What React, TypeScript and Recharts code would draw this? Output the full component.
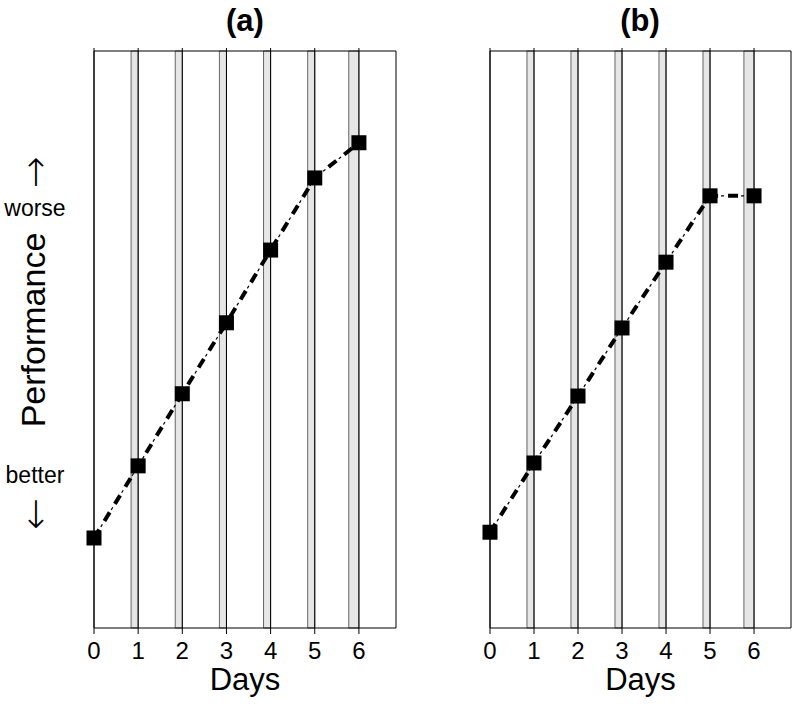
import React from 'react';
import {
  LineChart,
  Line,
  XAxis,
  YAxis,
  ReferenceArea,
  ReferenceLine
} from 'recharts';

const days = [0, 1, 2, 3, 4, 5, 6];
const perfA = [15.6, 28.1, 40.6, 52.9, 65.5, 78.0, 84.1];
const perfB = [16.6, 28.6, 40.2, 52.0, 63.4, 74.9, 74.9];
const bandStart = [0.84, 1.84, 2.84, 3.84, 4.84, 5.77];
const bandEnd = [1, 2, 3, 4, 5, 6];
const xMax = 6.84;

const FONT = '"Liberation Sans", Arial, Helvetica, sans-serif';
const ARROW_FONT = '"DejaVu Sans", sans-serif';

const Square = (props: any) => {
  const { cx, cy, index } = props;
  if (cx == null || cy == null) return <g key={`s-${index}`} />;
  return <rect key={`s-${index}`} x={cx - 7.5} y={cy - 7.5} width={15} height={15} fill="#000" />;
};

interface PanelProps {
  values: number[];
  left: number;
  marginLeft: number;
  marginRight: number;
}

const Panel: React.FC<PanelProps> = ({ values, left, marginLeft, marginRight }) => {
  const data = days.map((d, i) => ({ day: d, perf: values[i] }));
  return (
    <div style={{ position: 'absolute', left, top: 0 }}>
      <LineChart
        width={400}
        height={704}
        data={data}
        margin={{ top: 48, right: marginRight, left: marginLeft, bottom: 6 }}
      >
        <XAxis
          dataKey="day"
          type="number"
          domain={[0, xMax]}
          ticks={days}
          axisLine={false}
          tickLine={{ stroke: '#000' }}
          tickSize={6}
          tickMargin={8}
          height={70}
          tick={{ fontSize: 24, fill: '#000', fontFamily: FONT }}
          label={{ value: 'Days', position: 'insideBottom', offset: 8, fontSize: 31, fill: '#000', fontFamily: FONT }}
        />
        <XAxis
          xAxisId="top"
          orientation="top"
          dataKey="day"
          type="number"
          domain={[0, xMax]}
          ticks={days}
          axisLine={false}
          tickLine={{ stroke: '#000' }}
          tickSize={3}
          height={3}
          tickFormatter={() => ''}
        />
        <YAxis hide type="number" domain={[0, 100]} />
        {bandStart.map((s, i) => (
          <ReferenceArea
            key={`band-${i}`}
            x1={s}
            x2={bandEnd[i]}
            y1={0}
            y2={100}
            fill="#e6e6e6"
            fillOpacity={1}
            stroke="#666"
            strokeWidth={1}
          />
        ))}
        {days.map((d) => (
          <ReferenceLine key={`day-${d}`} x={d} stroke="#000" strokeWidth={1} />
        ))}
        <ReferenceArea
          x1={0}
          x2={xMax}
          y1={0}
          y2={100}
          fill="none"
          stroke="#000"
          strokeWidth={1}
        />
        <Line
          type="linear"
          dataKey="perf"
          stroke="#000"
          strokeWidth={1.2}
          strokeDasharray="0 13 3 4"
          dot={false}
          activeDot={false}
          isAnimationActive={false}
        />
        <Line
          type="linear"
          dataKey="perf"
          stroke="#000"
          strokeWidth={4}
          strokeDasharray="10 10"
          dot={Square}
          activeDot={false}
          isAnimationActive={false}
        />
      </LineChart>
    </div>
  );
};

export default function App() {
  return (
    <div style={{ position: 'absolute', left: 0, top: 0, width: 800, height: 704, background: '#fff' }}>
      <Panel values={perfA} left={0} marginLeft={94} marginRight={4} />
      <Panel values={perfB} left={400} marginLeft={90} marginRight={9} />
      <svg
        width={800}
        height={704}
        style={{ position: 'absolute', left: 0, top: 0, pointerEvents: 'none' }}
        fontFamily={FONT}
      >
        <text x={245} y={31} fontSize={31} fontWeight="bold" textAnchor="middle" fill="#000">(a)</text>
        <text x={640} y={31} fontSize={31} fontWeight="bold" textAnchor="middle" fill="#000">(b)</text>
        <text x={36} y={186} fontSize={38} fontWeight={200} fontFamily={ARROW_FONT} textAnchor="middle" fill="#000">↑</text>
        <text x={35} y={216} fontSize={23} textAnchor="middle" fill="#000">worse</text>
        <text
          x={45}
          y={330}
          fontSize={34}
          textAnchor="middle"
          fill="#000"
          transform="rotate(-90 45 330)"
        >
          Performance
        </text>
        <text x={35} y={483} fontSize={23} textAnchor="middle" fill="#000">better</text>
        <text x={36} y={528} fontSize={38} fontWeight={200} fontFamily={ARROW_FONT} textAnchor="middle" fill="#000">↓</text>
      </svg>
    </div>
  );
}
